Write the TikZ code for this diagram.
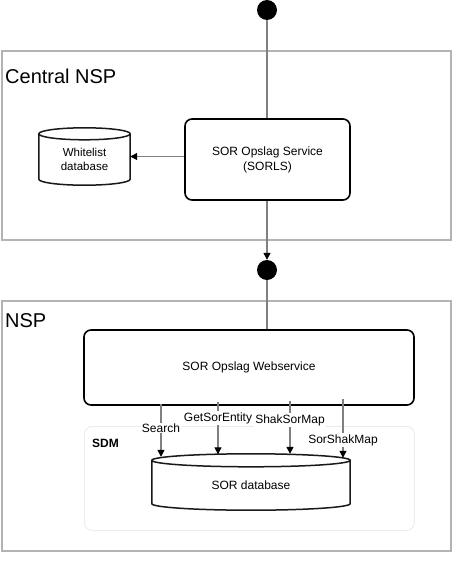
\documentclass[tikz,border=0pt]{standalone}
\usepackage{fontspec}
\setmainfont{Liberation Sans}
\usetikzlibrary{arrows.meta,calc}
\definecolor{grpgray}{RGB}{179,179,179}
\definecolor{conngray}{RGB}{128,128,128}
\definecolor{sdmgray}{RGB}{235,235,235}
\newcommand\cylout[2]{%
  \draw[cylline] let \p1=(#1.north west), \p2=(#1.south east), \n1={(\x2-\x1)/2} in
    ([yshift=-#2]#1.north) ellipse [x radius=\n1, y radius=#2]
    ([yshift=-#2]#1.north west) -- ([yshift=#2]#1.south west)
    arc[start angle=180, end angle=360, x radius=\n1, y radius=#2]
    -- ([yshift=-#2]#1.north east);}
\begin{document}
\begin{tikzpicture}[x=1pt,y=-1pt,
  group/.style={draw=grpgray, line width=1.5pt, inner sep=0pt, anchor=north west},
  grouptitle/.style={font=\fontsize{20}{24}\selectfont, anchor=base west, inner sep=0pt},
  proc/.style={draw=black, line width=1.6pt, rounded corners=7pt, align=center, inner sep=0pt,
    font=\fontsize{12}{15}\selectfont},
  dbnode/.style={inner sep=0pt},
  cylline/.style={draw=black!90, line width=1.5pt},
  dot/.style={circle, fill=black, minimum size=20pt, inner sep=0pt},
  conn/.style={draw=conngray, line width=1.3pt},
  arr/.style={conn, -{Triangle[length=7pt,width=7pt,color=black,fill=black]}},
  lab/.style={fill=white, inner sep=1pt, font=\fontsize{12}{14}\selectfont},
  sdmbox/.style={draw=sdmgray, line width=0.8pt, rounded corners=8pt, inner sep=0pt, anchor=north west}
]
\useasboundingbox (0,0) rectangle (470,570);
\fill[white] (0,0) rectangle (470,570);

% groups
\node[group, minimum width=449pt, minimum height=189pt] (central) at (1,50) {};
\node[grouptitle] (tcentral) at (5,83) {Central NSP};
\node[group, minimum width=449pt, minimum height=250pt] (nsp) at (1,300) {};
\node[grouptitle] (tnsp) at (5,327) {NSP};
\node[sdmbox, minimum width=330pt, minimum height=104pt] (sdm) at (84,426) {};
\node[font=\bfseries\fontsize{12}{14}\selectfont, anchor=base west, inner sep=0pt] (tsdm) at (92,447) {SDM};

% nodes
\node[dot] (dot1) at (267,10) {};
\node[proc, minimum width=165pt, minimum height=81pt] (sorls) at (267.5,159.5) {SOR Opslag Service\\(SORLS)};
\node[dbnode, minimum width=91pt, minimum height=57pt,
  label={[yshift=-3pt, align=center, font=\fontsize{11.5}{14}\selectfont]center:Whitelist\\database}] (wl) at (84.5,156.5) {};
\cylout{wl}{6pt}
\node[dot] (dot2) at (267,270) {};
\node[proc, minimum width=330pt, minimum height=75pt] (ws) at (249,367.5) {SOR Opslag Webservice};
\node[dbnode, minimum width=198pt, minimum height=56pt,
  label={[yshift=-3pt, font=\fontsize{12}{14}\selectfont]center:SOR database}] (db) at (251,482) {};
\cylout{db}{6.5pt}

% connectors
\draw[conn] (dot1) -- (sorls.north -| dot1);
\draw[arr] (sorls.south -| dot2) -- (dot2.north);
\draw[conn] (dot2) -- (ws.north -| dot2);
\draw[arr] (sorls.west |- wl.east) -- (wl.east);

\coordinate (xs) at (161,0);
\coordinate (xg) at (218,0);
\coordinate (xh) at (290,0);
\coordinate (xm) at (343,0);
\draw[arr] ([yshift=2pt]ws.south -| xs) -- ([yshift=-3pt]db.north -| xs);
\draw[arr] ([yshift=4pt]ws.south -| xg) -- ([yshift=-0.5pt]db.north -| xg);
\draw[arr] ([yshift=5pt]ws.south -| xh) -- ([yshift=0pt]db.north -| xh);
\draw[arr] ([yshift=7pt]ws.south -| xm) -- ([yshift=-4pt]db.north -| xm);

\node[lab] (lsearch) at (161,428) {Search};
\node[lab] (lget) at (218,418) {GetSorEntity};
\node[lab] (lshak) at (290,420) {ShakSorMap};
\node[lab] (lsor) at (343,440) {SorShakMap};
\end{tikzpicture}
\end{document}
